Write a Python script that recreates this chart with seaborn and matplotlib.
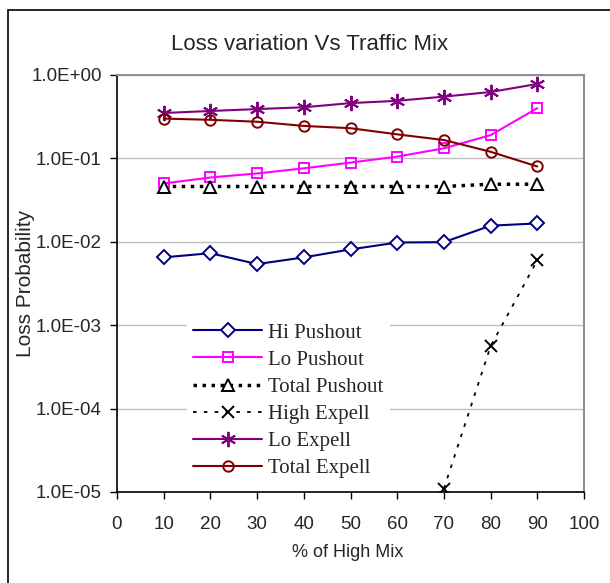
import matplotlib
matplotlib.use("Agg")
import matplotlib.pyplot as plt
import matplotlib.ticker as mticker
import seaborn as sns

# values
mix = [10, 20, 30, 40, 50, 60, 70, 80, 90]
hi_pushout = [0.0065, 0.0073, 0.0054, 0.0065, 0.0081, 0.0098, 0.0099, 0.0156, 0.0166]
lo_pushout = [0.050, 0.059, 0.066, 0.076, 0.089, 0.105, 0.132, 0.19, 0.40]
total_pushout = [0.046, 0.046, 0.046, 0.046, 0.046, 0.046, 0.046, 0.049, 0.049]
high_expell_mix = [70, 80, 90]
high_expell = [1.1e-5, 5.6e-4, 6.0e-3]
lo_expell = [0.35, 0.37, 0.39, 0.41, 0.46, 0.49, 0.55, 0.625, 0.78]
total_expell = [0.30, 0.29, 0.275, 0.245, 0.23, 0.194, 0.166, 0.12, 0.08]

x_ticks = list(range(0, 101, 10))

sns.set_style("white")
plt.rcParams["font.family"] = ["Liberation Sans", "DejaVu Sans"]

fig = plt.figure(figsize=(6.1, 5.83), dpi=100)
ax = fig.add_axes([0.1918, 0.1561, 0.7656, 0.7153])

# series: label, x, y, color, marker, size, face, linestyle, width
series = [
    ("Hi Pushout", mix, hi_pushout, "#000080", "D", 7, "white", "-", 1.5),
    ("Lo Pushout", mix, lo_pushout, "#FF00FF", "s", 7.5, "none", "-", 1.5),
    ("Total Pushout", mix, total_pushout, "black", "^", 8, "white", (0, (1, 1.6)), 2.5),
    ("High Expell", high_expell_mix, high_expell, "black", "x", 9, "none", (0, (2, 4)), 1.3),
    ("Lo Expell", mix, lo_expell, "#800080", (6, 2, 0), 11, "none", "-", 1.5),
    ("Total Expell", mix, total_expell, "#800000", "o", 7.5, "none", "-", 1.5),
]

for label, xs, ys, col, mk, ms, mfc, ls, lw in series:
    sns.lineplot(x=xs, y=ys, ax=ax, label=label, color=col, marker=mk,
                 markersize=ms, markerfacecolor=mfc, markeredgecolor=col,
                 markeredgewidth=1.4, linestyle=ls, linewidth=lw)

ax.set_yscale("log")
ax.set_ylim(1e-5, 1)
ax.set_xlim(0, 100)
ax.set_xticks(x_ticks)
ax.yaxis.set_major_locator(mticker.LogLocator(base=10, numticks=10))
ax.yaxis.set_minor_locator(mticker.NullLocator())
ax.yaxis.set_major_formatter(mticker.FuncFormatter(lambda v, p: f"{v:.1E}"))
ax.grid(axis="y", which="major", color="#c0c0c0", linewidth=1)
ax.set_axisbelow(True)

for side in ["left", "bottom"]:
    ax.spines[side].set_color("black")
    ax.spines[side].set_linewidth(1.2)
for side in ["top", "right"]:
    ax.spines[side].set_color("#909090")
    ax.spines[side].set_linewidth(1.5)

ax.tick_params(axis="both", which="major", direction="out", length=5, width=1,
               color="black", labelsize=13.5, left=True, bottom=True)
ax.tick_params(axis="y", pad=6)
ax.tick_params(axis="x", pad=12)
ax.set_xlabel("")
ax.set_ylabel("")

leg = ax.legend(loc="upper left", bbox_to_anchor=(0.15, 0.42), frameon=True,
                prop={"family": "Liberation Serif", "size": 15},
                handlelength=3.3, handletextpad=0.3, labelspacing=0.36,
                borderpad=0.3, borderaxespad=0, numpoints=1)
leg.get_frame().set_edgecolor("none")
leg.get_frame().set_facecolor("white")
leg.get_frame().set_alpha(1)

fig.text(0.508, 0.9245, "Loss variation Vs Traffic Mix", ha="center", va="center",
         fontsize=16)
fig.text(0.041, 0.5146, "Loss Probability", rotation=90, ha="center", va="center",
         fontsize=15)
fig.text(0.570, 0.0515, "% of High Mix", ha="center", va="center", fontsize=13)

# outer chart frame (only left and top edges are visible in the picture)
frame = plt.Rectangle((0.013, -0.05), 1.2, 1.033, transform=fig.transFigure,
                      fill=False, edgecolor="black", linewidth=1.2)
fig.patches.append(frame)

fig.savefig("out.png", dpi=100)
